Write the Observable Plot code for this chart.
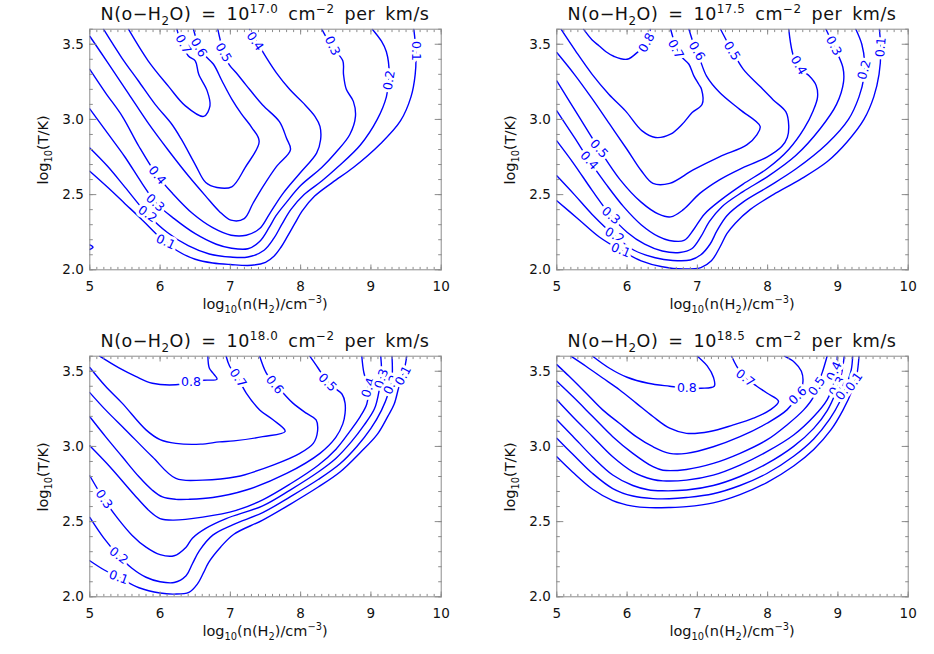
<!DOCTYPE html>
<html><head><meta charset="utf-8">
<script src="https://cdn.jsdelivr.net/npm/d3@7"></script>
<script src="https://cdn.jsdelivr.net/npm/@observablehq/plot@0.6"></script>
<style>
body{margin:0;background:#fff;}
#wrap{position:relative;width:934px;height:654px;overflow:hidden;background:#fff;}
.panel{position:absolute;width:467px;height:327px;}
</style></head><body><div id="wrap"></div>
<script>
// ---------- axes ----------
const xMajor = [5, 6, 7, 8, 9, 10];
const yMajor = [2.0, 2.5, 3.0, 3.5];
const xMinor = d3.range(50, 101).map(v => v / 10);
const yMinor = d3.range(20, 37).map(v => v / 10);
const columnExps = ["17.0", "17.5", "18.0", "18.5"];

// ---------- panel 1 : N = 10^17.0 ----------
const p170_l1 = [[5.0,2.655],[5.25,2.55],[5.5,2.44],[5.75,2.33],[6.0,2.215],[6.25,2.125],[6.5,2.07],[6.75,2.045],[7.0,2.035],[7.3,2.03],[7.5,2.05],[7.62,2.09],[7.72,2.15],[7.81,2.22],[7.92,2.31],[8.02,2.39],[8.2,2.49],[8.45,2.58],[8.75,2.68],[9.14,2.84],[9.42,2.99],[9.57,3.15],[9.63,3.3],[9.64,3.45],[9.61,3.6]];
const p170_l1b = [[5.0,2.165],[5.045,2.15],[5.0,2.135]];
const p170_l2 = [[5.0,2.81],[5.25,2.69],[5.5,2.55],[5.82,2.37],[6.1,2.25],[6.4,2.16],[6.7,2.105],[7.0,2.085],[7.25,2.085],[7.48,2.13],[7.62,2.21],[7.73,2.3],[7.86,2.4],[8.05,2.5],[8.3,2.59],[8.52,2.68],[8.85,2.83],[9.09,3.0],[9.22,3.15],[9.26,3.3],[9.22,3.45],[9.15,3.52],[9.02,3.6]];
const p170_l3 = [[5.0,3.07],[5.25,2.91],[5.5,2.75],[5.75,2.57],[5.95,2.44],[6.2,2.34],[6.5,2.24],[6.8,2.17],[7.0,2.145],[7.25,2.14],[7.42,2.19],[7.55,2.28],[7.65,2.36],[7.8,2.45],[8.0,2.56],[8.3,2.68],[8.5,2.78],[8.7,2.9],[8.78,3.02],[8.75,3.12],[8.65,3.2],[8.61,3.3],[8.6,3.39],[8.45,3.48],[8.3,3.6]];
const p170_l4 = [[5.0,3.333],[5.224,3.177],[5.462,3.021],[5.70,2.82],[5.958,2.628],[6.177,2.508],[6.463,2.374],[6.749,2.28],[7.011,2.23],[7.226,2.23],[7.417,2.274],[7.56,2.374],[7.75,2.508],[7.989,2.642],[8.227,2.776],[8.284,2.865],[8.275,2.954],[8.203,3.021],[8.036,3.11],[7.846,3.199],[7.655,3.31],[7.512,3.411],[7.369,3.522],[7.274,3.6]];
const p170_l5 = [[5.0,3.553],[5.267,3.37],[5.553,3.17],[5.839,2.97],[6.125,2.79],[6.411,2.62],[6.649,2.49],[6.84,2.39],[7.007,2.33],[7.197,2.34],[7.321,2.441],[7.464,2.553],[7.655,2.686],[7.855,2.798],[7.798,2.876],[7.698,2.985],[7.459,3.096],[7.221,3.23],[7.083,3.31],[6.983,3.364],[6.892,3.466],[6.821,3.6]];
const p170_l6 = [[5.195,3.6],[5.455,3.41],[5.69,3.257],[5.93,3.1],[6.167,2.968],[6.3,2.87],[6.5,2.7],[6.65,2.58],[6.81,2.547],[7.02,2.552],[7.21,2.68],[7.41,2.853],[7.305,2.946],[7.16,3.035],[7.02,3.135],[6.88,3.257],[6.76,3.367],[6.63,3.43],[6.55,3.49],[6.475,3.6]];
const p170_l7 = [[5.55,3.6],[5.83,3.39],[6.12,3.22],[6.36,3.09],[6.62,3.02],[6.71,3.09],[6.67,3.19],[6.55,3.3],[6.5,3.39],[6.4,3.423],[6.26,3.567],[6.24,3.6]];
const p170_labels = [["0.7",6.33,3.5,62],["0.6",6.55,3.478,60],["0.5",6.9,3.445,60],["0.4",7.35,3.52,55],["0.3",8.45,3.49,65],["0.2",9.26,3.26,-80],["0.1",9.635,3.455,90],["0.4",5.958,2.628,50],["0.3",5.93,2.445,42],["0.2",5.82,2.37,35],["0.1",6.08,2.185,25]];

// ---------- panel 2 : N = 10^17.5 ----------
const p175_l1 = [[5.0,2.459],[5.3,2.34],[5.6,2.22],[5.91,2.13],[6.2,2.06],[6.5,2.02],[6.8,2.005],[7.05,2.015],[7.2,2.06],[7.32,2.15],[7.42,2.24],[7.54,2.31],[7.75,2.4],[8.08,2.5],[8.46,2.6],[8.85,2.72],[9.13,2.85],[9.37,3.0],[9.51,3.15],[9.585,3.3],[9.61,3.45],[9.59,3.6]];
const p175_l2 = [[5.0,2.625],[5.25,2.5],[5.5,2.37],[5.82,2.228],[6.1,2.13],[6.4,2.08],[6.65,2.062],[6.9,2.065],[7.05,2.1],[7.18,2.17],[7.28,2.26],[7.42,2.36],[7.65,2.45],[8.0,2.55],[8.4,2.67],[8.85,2.84],[9.15,3.0],[9.3,3.15],[9.37,3.28],[9.38,3.38],[9.34,3.5],[9.255,3.6]];
const p175_l3 = [[5.0,2.857],[5.25,2.7],[5.5,2.53],[5.77,2.36],[6.0,2.25],[6.25,2.17],[6.5,2.125],[6.75,2.115],[6.92,2.14],[7.05,2.22],[7.17,2.32],[7.35,2.42],[7.65,2.52],[8.0,2.62],[8.4,2.76],[8.75,2.94],[8.98,3.1],[9.08,3.25],[9.07,3.347],[8.95,3.48],[8.83,3.6]];
const p175_l4 = [[5.0,3.057],[5.25,2.88],[5.46,2.727],[5.7,2.57],[5.95,2.42],[6.2,2.3],[6.45,2.22],[6.6,2.195],[6.81,2.195],[6.95,2.27],[7.1,2.37],[7.35,2.47],[7.65,2.57],[8.0,2.675],[8.3,2.8],[8.52,2.94],[8.65,3.06],[8.71,3.148],[8.69,3.226],[8.59,3.29],[8.43,3.347],[8.35,3.45],[8.3,3.6]];
const p175_l5 = [[5.0,3.256],[5.3,3.03],[5.6,2.805],[5.9,2.6],[6.2,2.45],[6.45,2.37],[6.62,2.352],[6.8,2.4],[7.035,2.508],[7.32,2.6],[7.607,2.67],[7.99,2.75],[8.2,2.82],[8.28,2.88],[8.3,2.96],[8.26,3.05],[8.08,3.13],[7.89,3.22],[7.655,3.333],[7.51,3.444],[7.42,3.52],[7.33,3.6]];
const p175_l6 = [[5.0,3.445],[5.25,3.3],[5.5,3.14],[5.75,2.97],[6.0,2.8],[6.2,2.66],[6.368,2.575],[6.606,2.575],[6.94,2.664],[7.321,2.753],[7.703,2.831],[7.846,2.898],[7.893,2.954],[7.607,3.065],[7.321,3.177],[7.131,3.288],[7.035,3.4],[6.97,3.47],[6.88,3.6]];
const p175_l7 = [[5.06,3.6],[5.266,3.456],[5.503,3.3],[5.74,3.168],[5.977,3.057],[6.214,2.924],[6.404,2.88],[6.618,2.902],[6.784,2.968],[6.926,3.046],[7.068,3.101],[7.059,3.201],[7.02,3.234],[6.95,3.29],[6.88,3.367],[6.784,3.412],[6.71,3.467],[6.62,3.6]];
const p175_l8 = [[5.38,3.6],[5.5,3.53],[5.6,3.49],[5.7,3.45],[5.81,3.42],[6.0,3.4],[6.17,3.456],[6.29,3.51],[6.33,3.6]];
const p175_labels = [["0.8",6.28,3.51,-62],["0.7",6.69,3.467,62],["0.6",6.99,3.455,60],["0.5",7.49,3.455,58],["0.4",8.44,3.36,60],["0.3",8.94,3.49,62],["0.2",9.375,3.33,-75],["0.1",9.61,3.48,-85],["0.5",5.6,2.805,48],["0.4",5.46,2.727,48],["0.3",5.77,2.36,40],["0.2",5.82,2.228,30],["0.1",5.91,2.13,22]];

// ---------- panel 3 : N = 10^18.0 ----------
const p180_l1 = [[5.0,2.24],[5.2,2.18],[5.41,2.129],[5.7,2.06],[6.0,2.025],[6.2,2.018],[6.41,2.029],[6.53,2.084],[6.62,2.162],[6.69,2.228],[6.86,2.33],[7.05,2.416],[7.46,2.51],[7.85,2.615],[8.25,2.73],[8.56,2.83],[8.85,2.96],[9.09,3.08],[9.24,3.2],[9.33,3.28],[9.4,3.4],[9.47,3.5],[9.51,3.6]];
const p180_l2 = [[5.0,2.528],[5.2,2.39],[5.41,2.273],[5.6,2.19],[5.8,2.13],[6.0,2.1],[6.2,2.095],[6.37,2.14],[6.46,2.22],[6.56,2.307],[6.75,2.41],[7.04,2.48],[7.46,2.56],[7.85,2.665],[8.25,2.78],[8.56,2.885],[8.8,3.0],[9.0,3.12],[9.15,3.24],[9.25,3.355],[9.3,3.45],[9.3,3.6]];
const p180_l3 = [[5.0,2.805],[5.2,2.649],[5.4,2.52],[5.6,2.41],[5.8,2.33],[6.0,2.28],[6.2,2.273],[6.37,2.33],[6.46,2.39],[6.65,2.455],[6.94,2.52],[7.46,2.605],[7.85,2.71],[8.25,2.83],[8.5,2.92],[8.72,3.03],[8.9,3.14],[9.05,3.25],[9.12,3.38],[9.15,3.5],[9.14,3.6]];
const p180_l4 = [[5.0,3.004],[5.295,2.86],[5.626,2.682],[5.85,2.57],[6.0,2.52],[6.19,2.51],[6.606,2.53],[7.083,2.575],[7.46,2.645],[7.85,2.75],[8.25,2.875],[8.5,2.98],[8.7,3.1],[8.85,3.2],[8.94,3.28],[8.966,3.38],[8.9,3.49],[8.87,3.6]];
const p180_l5 = [[5.0,3.197],[5.224,3.065],[5.462,2.931],[5.7,2.798],[5.89,2.709],[6.034,2.664],[6.225,2.648],[6.4,2.648],[6.75,2.66],[7.226,2.71],[7.8,2.82],[8.275,2.954],[8.5,3.06],[8.6,3.15],[8.632,3.22],[8.632,3.288],[8.59,3.347],[8.45,3.4],[8.35,3.45],[8.25,3.52],[8.13,3.6]];
const p180_l6 = [[5.0,3.358],[5.224,3.243],[5.51,3.11],[5.89,2.931],[6.225,2.787],[6.606,2.776],[7.083,2.798],[7.607,2.876],[7.989,2.954],[8.18,3.02],[8.24,3.099],[8.22,3.177],[8.08,3.221],[7.89,3.288],[7.75,3.355],[7.63,3.41],[7.51,3.489],[7.417,3.6]];
const p180_l7 = [[5.0,3.525],[5.224,3.4],[5.46,3.288],[5.8,3.11],[6.0,3.045],[6.225,3.02],[6.575,3.015],[6.845,3.03],[7.05,3.037],[7.46,3.065],[7.78,3.1],[7.607,3.177],[7.417,3.243],[7.226,3.355],[7.107,3.455],[6.99,3.533],[6.94,3.6]];
const p180_l8 = [[5.14,3.6],[5.415,3.522],[5.653,3.466],[5.89,3.42],[6.225,3.41],[6.44,3.426],[6.62,3.44],[6.81,3.447],[6.75,3.489],[6.7,3.522],[6.68,3.6]];
const p180_labels = [["0.8",6.44,3.426,0],["0.7",7.107,3.455,55],["0.6",7.63,3.41,52],["0.5",8.38,3.425,45],["0.4",8.965,3.39,-72],["0.3",9.15,3.45,-72],["0.2",9.29,3.41,-65],["0.1",9.46,3.47,-62],["0.3",5.2,2.649,55],["0.2",5.41,2.273,38],["0.1",5.41,2.129,20]];

// ---------- panel 4 : N = 10^18.5 ----------
const p185_l1 = [[5.0,2.931],[5.224,2.83],[5.51,2.715],[5.796,2.64],[6.082,2.603],[6.32,2.593],[6.6,2.594],[6.845,2.6],[7.226,2.625],[7.607,2.68],[7.989,2.76],[8.37,2.87],[8.656,2.98],[8.9,3.11],[9.07,3.24],[9.2,3.37],[9.27,3.48],[9.3,3.6]];
const p185_l2 = [[5.0,3.054],[5.224,2.95],[5.51,2.82],[5.796,2.72],[6.082,2.67],[6.37,2.653],[6.6,2.652],[6.845,2.66],[7.226,2.685],[7.607,2.74],[7.989,2.82],[8.37,2.935],[8.656,3.05],[8.88,3.18],[9.03,3.3],[9.13,3.42],[9.19,3.51],[9.21,3.6]];
const p185_l3 = [[5.0,3.177],[5.224,3.07],[5.51,2.93],[5.796,2.81],[6.082,2.74],[6.3,2.712],[6.5,2.705],[6.845,2.71],[7.226,2.74],[7.607,2.8],[7.989,2.885],[8.37,3.0],[8.656,3.12],[8.85,3.24],[8.97,3.36],[9.05,3.48],[9.09,3.6]];
const p185_l4 = [[5.0,3.31],[5.224,3.199],[5.51,3.065],[5.796,2.931],[6.082,2.831],[6.368,2.78],[6.51,2.771],[6.845,2.776],[7.226,2.809],[7.607,2.876],[7.989,2.965],[8.37,3.076],[8.656,3.199],[8.846,3.31],[8.942,3.422],[8.98,3.511],[8.99,3.6]];
const p185_l5 = [[5.0,3.433],[5.224,3.333],[5.51,3.199],[5.796,3.065],[6.082,2.954],[6.368,2.865],[6.51,2.842],[6.845,2.847],[7.226,2.887],[7.607,2.954],[7.989,3.043],[8.275,3.143],[8.513,3.243],[8.656,3.333],[8.7,3.4],[8.775,3.489],[8.846,3.6]];
const p185_l6 = [[5.0,3.544],[5.176,3.466],[5.415,3.355],[5.653,3.243],[5.89,3.154],[6.13,3.065],[6.368,2.998],[6.606,2.954],[6.845,2.954],[7.226,2.998],[7.607,3.065],[7.99,3.154],[8.275,3.243],[8.43,3.337],[8.5,3.42],[8.48,3.5],[8.38,3.56],[8.24,3.6]];
const p185_l7 = [[5.2,3.6],[5.415,3.533],[5.653,3.455],[5.891,3.377],[6.13,3.288],[6.368,3.199],[6.606,3.121],[6.845,3.087],[7.178,3.099],[7.512,3.143],[7.798,3.188],[8.036,3.243],[8.155,3.3],[7.989,3.355],[7.846,3.4],[7.68,3.455],[7.56,3.533],[7.488,3.6]];
const p185_l8 = [[5.51,3.6],[5.75,3.52],[6.0,3.46],[6.3,3.42],[6.606,3.4],[6.85,3.387],[7.05,3.387],[7.24,3.4],[7.23,3.458],[7.14,3.536],[7.0,3.6]];
const p185_labels = [["0.8",6.85,3.387,0],["0.7",7.68,3.455,38],["0.6",8.43,3.337,-45],["0.5",8.7,3.4,-55],["0.4",8.95,3.5,-65],["0.3",8.99,3.4,-60],["0.2",9.09,3.37,-55],["0.1",9.23,3.43,-55]];

// ---------- assemble ----------
const panels = [
  {exp: columnExps[0], left: 0,   top: 0,   lines: [[0.1,p170_l1],[0.1,p170_l1b],[0.2,p170_l2],[0.3,p170_l3],[0.4,p170_l4],[0.5,p170_l5],[0.6,p170_l6],[0.7,p170_l7]], labels: p170_labels},
  {exp: columnExps[1], left: 467, top: 0,   lines: [[0.1,p175_l1],[0.2,p175_l2],[0.3,p175_l3],[0.4,p175_l4],[0.5,p175_l5],[0.6,p175_l6],[0.7,p175_l7],[0.8,p175_l8]], labels: p175_labels},
  {exp: columnExps[2], left: 0,   top: 327, lines: [[0.1,p180_l1],[0.2,p180_l2],[0.3,p180_l3],[0.4,p180_l4],[0.5,p180_l5],[0.6,p180_l6],[0.7,p180_l7],[0.8,p180_l8]], labels: p180_labels},
  {exp: columnExps[3], left: 467, top: 327, lines: [[0.1,p185_l1],[0.2,p185_l2],[0.3,p185_l3],[0.4,p185_l4],[0.5,p185_l5],[0.6,p185_l6],[0.7,p185_l7],[0.8,p185_l8]], labels: p185_labels}
];

const BLUE = "#0000ff", GRAY = "#8c8c8c", INK = "#111111";
const FONT = "DejaVu Sans, sans-serif";

function rich(sel, parts, size) {
  let cur = 0;
  parts.forEach(([s, kind]) => {
    const target = kind === "sup" ? -0.42 * size : kind === "sub" ? 0.28 * size : 0;
    sel.append("tspan")
      .attr("dy", (target - cur).toFixed(2))
      .attr("font-size", kind ? size * 0.68 : size)
      .text(s);
    cur = target;
  });
}

const wrap = document.getElementById("wrap");
panels.forEach(p => {
  const rows = [];
  p.lines.forEach(([level, pts], k) => pts.forEach(([x, y]) => rows.push({k, level, x, y})));
  const labs = p.labels.map(([t, x, y, a]) => ({t, x, y, a}));
  const tick = (axis, data, anchor, size) =>
    axis(data, {anchor, tickSize: size, stroke: GRAY, fill: "none", label: null});
  const svg = Plot.plot({
    width: 467, height: 327,
    marginTop: 28.7, marginLeft: 89.3, marginRight: 26.3, marginBottom: 57.7,
    style: {fontFamily: FONT, background: "#fff", color: INK, overflow: "visible"},
    x: {domain: [5, 10], label: null},
    y: {domain: [2, 3.6], label: null},
    marks: [
      Plot.line(rows, {x: "x", y: "y", z: "k", stroke: BLUE, strokeWidth: 1.4, curve: "catmull-rom", clip: true}),
      Plot.text(labs, {x: "x", y: "y", text: "t", rotate: "a", fill: BLUE, stroke: "#fff", strokeWidth: 6, fontSize: 12.5, fontFamily: FONT}),
      tick(Plot.axisX, xMinor, "bottom", -2.4),
      tick(Plot.axisX, xMinor, "top", -2.4),
      tick(Plot.axisX, xMajor, "bottom", -4.8),
      tick(Plot.axisX, xMajor, "top", -4.8),
      tick(Plot.axisY, yMinor, "left", -3.5),
      tick(Plot.axisY, yMinor, "right", -3.5),
      tick(Plot.axisY, yMajor, "left", -7),
      tick(Plot.axisY, yMajor, "right", -7),
      Plot.axisX(xMajor, {anchor: "bottom", tickSize: 0, tickPadding: 12, fill: INK, fontSize: 13.5, label: null, tickFormat: d => String(d)}),
      Plot.axisY(yMajor, {anchor: "left", tickSize: 0, tickPadding: 6, fill: INK, fontSize: 13.5, label: null, tickFormat: d3.format(".1f")}),
      Plot.frame({stroke: GRAY})
    ]
  });
  const s = d3.select(svg);
  const title = s.append("text").attr("x", 265).attr("y", 20).attr("text-anchor", "middle")
    .attr("fill", INK).attr("font-family", FONT).attr("font-size", 17.5)
    .style("white-space", "pre").style("letter-spacing", "0.5px").style("word-spacing", "4px");
  rich(title, [["N(o−H"], ["2", "sub"], ["O) = 10"], [p.exp, "sup"], [" cm"], ["−2", "sup"], [" per km/s"]], 17.5);
  const xl = s.append("text").attr("x", 265).attr("y", 309).attr("text-anchor", "middle")
    .attr("fill", INK).attr("font-family", FONT).attr("font-size", 14.5);
  rich(xl, [["log"], ["10", "sub"], ["(n(H"], ["2", "sub"], [")/cm"], ["−3", "sup"], [")"]], 14.5);
  const yl = s.append("text").attr("transform", "translate(48,150) rotate(-90)").attr("text-anchor", "middle")
    .attr("fill", INK).attr("font-family", FONT).attr("font-size", 14.5);
  rich(yl, [["log"], ["10", "sub"], ["(T/K)"]], 14.5);
  const div = document.createElement("div");
  div.className = "panel";
  div.style.left = p.left + "px";
  div.style.top = p.top + "px";
  div.appendChild(svg);
  wrap.appendChild(div);
});
</script></body></html>
